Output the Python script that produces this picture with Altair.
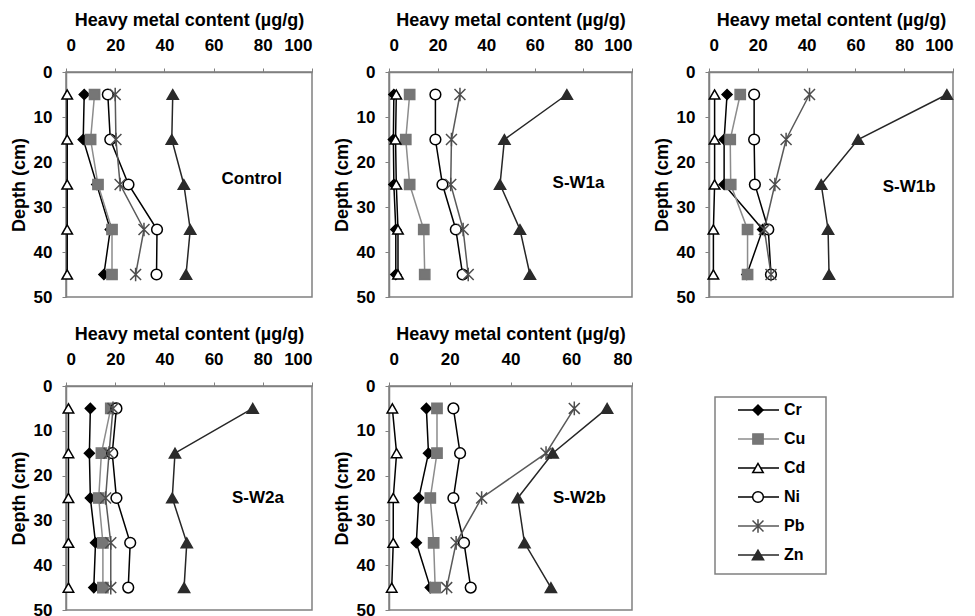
import altair as alt
import pandas as pd

FONT = "Liberation Sans"

depths = [5, 15, 25, 35, 45]
metals = ["Cr", "Cu", "Cd", "Ni", "Pb", "Zn"]

control = {
    "Cr": [7.4, 7.0, 12.5, 18.0, 15.4],
    "Cu": [11.6, 10.0, 13.0, 18.7, 18.7],
    "Cd": [0.5, 0.5, 0.5, 0.5, 0.5],
    "Ni": [17.0, 18.0, 25.4, 37.0, 36.8],
    "Pb": [20.0, 20.3, 22.0, 31.7, 28.3],
    "Zn": [43.4, 43.0, 47.9, 50.5, 48.8],
}
sw1a = {
    "Cr": [2.0, 1.8, 2.0, 2.8, 2.8],
    "Cu": [8.5, 6.9, 8.5, 14.3, 14.7],
    "Cd": [3.0, 2.7, 3.0, 3.7, 3.7],
    "Ni": [19.1, 19.1, 22.0, 27.5, 30.3],
    "Pb": [29.2, 25.7, 25.4, 30.5, 32.6],
    "Zn": [73.2, 47.5, 45.7, 53.9, 58.0],
}
sw1b = {
    "Cr": [7.4, 6.2, 6.2, 22.0, 15.5],
    "Cu": [12.8, 8.7, 8.9, 15.8, 15.8],
    "Cd": [2.3, 2.3, 2.3, 1.8, 1.8],
    "Ni": [18.5, 18.5, 18.8, 24.3, 25.4],
    "Pb": [41.2, 31.6, 27.0, 22.7, 25.4],
    "Zn": [97.5, 61.1, 46.0, 48.8, 49.2],
}
sw2a = {
    "Cr": [9.9, 9.5, 9.9, 12.0, 11.3],
    "Cu": [18.2, 14.4, 13.3, 15.0, 15.0],
    "Cd": [1.0, 1.0, 1.0, 1.0, 1.0],
    "Ni": [20.5, 18.8, 20.5, 26.1, 25.3],
    "Pb": [19.1, 17.5, 16.1, 18.2, 18.2],
    "Zn": [75.9, 44.3, 43.2, 49.1, 48.0],
}
sw2b = {
    "Cr": [12.3, 13.0, 9.8, 9.0, 13.6],
    "Cu": [15.8, 15.8, 13.6, 14.7, 15.2],
    "Cd": [1.1, 2.5, 1.4, 1.4, 0.9],
    "Ni": [21.2, 23.4, 21.2, 24.7, 26.9],
    "Pb": [61.0, 51.7, 30.5, 22.1, 19.0],
    "Zn": [71.8, 53.9, 42.4, 44.6, 53.3],
}

panel_names = ["Control", "S-W1a", "S-W1b", "S-W2a", "S-W2b"]

# styles
ASTERISK = "M-1,-1L1,1M-1,1L1,-1M0,-1.25L0,1.25"
line_colors = ["#000000", "#8c8c8c", "#000000", "#000000", "#595959", "#262626"]
shapes = ["diamond", "square", "triangle-up", "circle", ASTERISK, "triangle-up"]
fills = ["#000000", "#767676", "#ffffff", "#ffffff", "#4d4d4d", "#2b2b2b"]
strokes = ["#000000", "#767676", "#000000", "#000000", "#4d4d4d", "#2b2b2b"]
sizes = [100, 125, 150, 130, 110, 160]
legend_sizes = [60, 90, 110, 45, 70, 130]


def metal_scale(rng):
    return alt.Scale(domain=metals, range=rng)


def panel(name, data, xmax, lx, ly, width, height):
    rows = [
        {"metal": m, "depth": d, "value": v}
        for m in metals
        for d, v in zip(depths, data[m])
    ]
    df = pd.DataFrame(rows)
    x = alt.X(
        "value:Q",
        scale=alt.Scale(domain=[0, xmax], nice=False),
        axis=alt.Axis(
            orient="top",
            values=list(range(0, xmax + 1, 20)),
            title="Heavy metal content (µg/g)",
            grid=False,
            labelPadding=14,
            titlePadding=7,
        ),
    )
    y = alt.Y(
        "depth:Q",
        scale=alt.Scale(domain=[0, 50], reverse=True, nice=False),
        axis=alt.Axis(
            values=[0, 10, 20, 30, 40, 50],
            title="Depth (cm)",
            grid=False,
            labelPadding=10,
            titlePadding=5,
        ),
    )
    base = alt.Chart(df)
    lines = base.mark_line(strokeWidth=1.5).encode(
        x=x,
        y=y,
        color=alt.Color("metal:N", scale=metal_scale(line_colors), legend=None),
        order="depth:Q",
    )
    pts = base.mark_point(opacity=1, strokeWidth=1.5).encode(
        x=x,
        y=y,
        shape=alt.Shape("metal:N", scale=metal_scale(shapes), legend=None),
        fill=alt.Fill("metal:N", scale=metal_scale(fills), legend=None),
        stroke=alt.Stroke("metal:N", scale=metal_scale(strokes), legend=None),
        size=alt.Size("metal:N", scale=metal_scale(sizes), legend=None),
    )
    lab = alt.Chart(pd.DataFrame({"value": [lx], "depth": [ly], "t": [name]})).mark_text(
        fontSize=17, fontWeight="bold", font=FONT, color="#000000"
    ).encode(x="value:Q", y="depth:Q", text="t:N")
    return alt.layer(lines, pts, lab).properties(width=width, height=height)


p1 = panel(panel_names[0], control, 100, 75.5, 23.8, 246, 225)
p2 = panel(panel_names[1], sw1a, 100, 78, 24.7, 243, 225)
p3 = panel(panel_names[2], sw1b, 100, 82, 25.5, 244, 225)
p4 = panel(panel_names[3], sw2a, 100, 78, 25, 246, 224)
p5 = panel(panel_names[4], sw2b, 80, 62.7, 25, 243, 224)

# legend panel (box drawn inside an unstroked view)
leg_df = pd.DataFrame({"metal": metals})
ly = alt.Y(
    "metal:N", sort=metals,
    scale=alt.Scale(type="point", domain=metals, range=[24, 169], padding=0),
    axis=None,
)
leg_base = alt.Chart(leg_df)
leg_box = alt.Chart(pd.DataFrame({"metal": ["Cr"]})).mark_rect(
    fill="#ffffff", stroke="#808080", strokeWidth=1.5
).encode(x=alt.value(6), x2=alt.value(117), y=alt.value(11), y2=alt.value(188))
leg_rules = leg_base.mark_rule(strokeWidth=1.5).encode(
    x=alt.value(29),
    x2=alt.value(70),
    y=ly,
    color=alt.Color("metal:N", scale=metal_scale(line_colors), legend=None),
)
leg_pts = leg_base.mark_point(opacity=1, strokeWidth=1.5).encode(
    x=alt.value(49),
    y=ly,
    shape=alt.Shape("metal:N", scale=metal_scale(shapes), legend=None),
    fill=alt.Fill("metal:N", scale=metal_scale(fills), legend=None),
    stroke=alt.Stroke("metal:N", scale=metal_scale(strokes), legend=None),
    size=alt.Size("metal:N", scale=metal_scale(legend_sizes), legend=None),
)
leg_text = leg_base.mark_text(
    align="left", fontSize=16, fontWeight="bold", font=FONT, color="#000000"
).encode(x=alt.value(75), y=ly, text="metal:N")
legend = alt.layer(leg_box, leg_rules, leg_pts, leg_text).properties(
    width=118, height=190, view=alt.ViewBackground(stroke=None)
)

chart = (
    alt.concat(
        p1, p2, p3, p4, p5, legend,
        columns=3,
        spacing=alt.RowColnumber(row=89, column=77),
        bounds="flush",
    )
    .properties(padding={"left": 1, "top": 2, "right": 5, "bottom": 0}, background="#ffffff")
    .configure(font=FONT)
    .configure_view(stroke="#808080", strokeWidth=1.5)
    .configure_axis(
        labelFont=FONT,
        titleFont=FONT,
        labelFontSize=17,
        titleFontSize=18,
        labelFontWeight="bold",
        titleFontWeight="bold",
        labelColor="#000000",
        titleColor="#000000",
        domainColor="#808080",
        domainWidth=1.5,
        tickColor="#808080",
        tickSize=4,
        tickWidth=1,
    )
)

chart.save("out.html", embed_options={"renderer": "svg", "actions": False})
